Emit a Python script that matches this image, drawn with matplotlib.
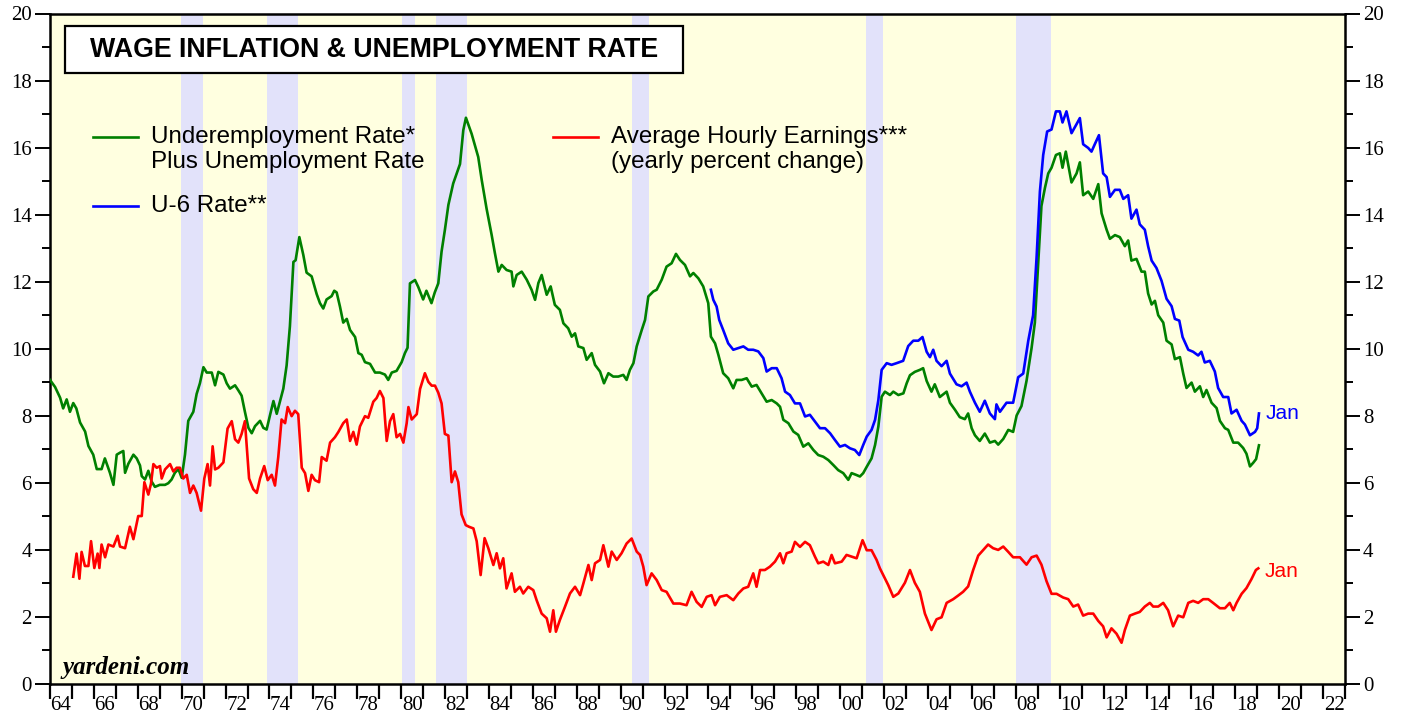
import matplotlib.pyplot as plt
from matplotlib.patches import Rectangle
from matplotlib.lines import Line2D
from matplotlib.ticker import FixedLocator, FixedFormatter, MultipleLocator

# underemployment + unemployment rate (green)
green_years = [1964.0, 1964.23, 1964.46, 1964.6, 1964.76, 1964.91, 1965.06, 1965.2, 1965.37, 1965.6,
               1965.75, 1965.97, 1966.13, 1966.35, 1966.5, 1966.73, 1966.89, 1967.04, 1967.19, 1967.34,
               1967.42, 1967.57, 1967.8, 1967.95, 1968.1, 1968.18, 1968.33, 1968.48, 1968.63, 1968.78,
               1969.0, 1969.24, 1969.39, 1969.54, 1969.69, 1969.85, 1970.0, 1970.15, 1970.3, 1970.53,
               1970.68, 1970.83, 1970.99, 1971.14, 1971.37, 1971.52, 1971.67, 1971.9, 1972.05, 1972.2,
               1972.43, 1972.58, 1972.73, 1972.88, 1973.04, 1973.19, 1973.34, 1973.57, 1973.72, 1973.87,
               1974.02, 1974.18, 1974.33, 1974.48, 1974.63, 1974.78, 1974.93, 1975.09, 1975.19, 1975.36,
               1975.54, 1975.69, 1975.92, 1976.15, 1976.3, 1976.45, 1976.6, 1976.83, 1976.95, 1977.06,
               1977.21, 1977.36, 1977.52, 1977.67, 1977.9, 1978.05, 1978.2, 1978.35, 1978.58, 1978.81,
               1979.03, 1979.26, 1979.41, 1979.57, 1979.79, 1980.02, 1980.17, 1980.29, 1980.4, 1980.63,
               1980.78, 1981.0, 1981.15, 1981.38, 1981.53, 1981.69, 1981.84, 1981.99, 1982.15, 1982.37,
               1982.68, 1982.83, 1982.95, 1983.21, 1983.51, 1983.67, 1983.89, 1984.12, 1984.27, 1984.43,
               1984.58, 1984.8, 1985.03, 1985.11, 1985.26, 1985.49, 1985.72, 1985.94, 1986.1, 1986.25,
               1986.4, 1986.63, 1986.81, 1987.0, 1987.23, 1987.39, 1987.61, 1987.77, 1987.92, 1988.07,
               1988.3, 1988.45, 1988.68, 1988.83, 1989.06, 1989.24, 1989.44, 1989.66, 1989.89, 1990.12,
               1990.27, 1990.42, 1990.58, 1990.73, 1990.96, 1991.11, 1991.26, 1991.49, 1991.64, 1991.87,
               1992.09, 1992.32, 1992.52, 1992.7, 1992.93, 1993.16, 1993.31, 1993.54, 1993.76, 1993.99,
               1994.11, 1994.3, 1994.45, 1994.67, 1994.9, 1995.13, 1995.28, 1995.51, 1995.74, 1995.97,
               1996.19, 1996.42, 1996.65, 1996.88, 1997.11, 1997.26, 1997.41, 1997.64, 1997.87, 1998.09,
               1998.32, 1998.55, 1998.78, 1999.0, 1999.23, 1999.46, 1999.69, 1999.91, 2000.14, 2000.37,
               2000.52, 2000.72, 2000.9, 2001.05, 2001.21, 2001.43, 2001.59, 2001.74, 2001.89, 2002.04,
               2002.27, 2002.42, 2002.65, 2002.88, 2003.03, 2003.18, 2003.4, 2003.63, 2003.78, 2003.94,
               2004.16, 2004.31, 2004.54, 2004.85, 2005.0, 2005.23, 2005.45, 2005.68, 2005.83, 2005.99,
               2006.14, 2006.36, 2006.59, 2006.82, 2007.05, 2007.2, 2007.43, 2007.66, 2007.88, 2008.04,
               2008.26, 2008.49, 2008.72, 2008.87, 2009.02, 2009.17, 2009.33, 2009.48, 2009.63, 2009.83,
               2010.01, 2010.13, 2010.28, 2010.54, 2010.77, 2010.92, 2011.07, 2011.3, 2011.53, 2011.76,
               2011.91, 2012.14, 2012.29, 2012.52, 2012.74, 2012.97, 2013.12, 2013.27, 2013.5, 2013.73,
               2013.88, 2014.03, 2014.19, 2014.34, 2014.49, 2014.72, 2014.87, 2015.1, 2015.25, 2015.48,
               2015.63, 2015.78, 2016.01, 2016.16, 2016.39, 2016.54, 2016.69, 2016.92, 2017.15, 2017.3,
               2017.53, 2017.68, 2017.91, 2018.13, 2018.36, 2018.51, 2018.67, 2018.82, 2018.95, 2019.08]
green_vals = [9.07, 8.86, 8.54, 8.22, 8.49, 8.12, 8.38, 8.22, 7.8, 7.53,
              7.1, 6.84, 6.41, 6.41, 6.73, 6.3, 5.94, 6.84, 6.9, 6.95,
              6.3, 6.57, 6.84, 6.73, 6.52, 6.2, 6.1, 6.36, 6.04, 5.88,
              5.94, 5.94, 5.99, 6.1, 6.3, 6.41, 6.15, 6.84, 7.85, 8.12,
              8.65, 8.97, 9.45, 9.29, 9.29, 8.91, 9.31, 9.23, 8.97, 8.81,
              8.91, 8.76, 8.6, 8.12, 7.64, 7.48, 7.69, 7.85, 7.64, 7.59,
              8.01, 8.44, 8.06, 8.44, 8.81, 9.5, 10.67, 12.59, 12.64, 13.33,
              12.8, 12.27, 12.16, 11.63, 11.36, 11.2, 11.47, 11.57, 11.73, 11.68,
              11.26, 10.78, 10.89, 10.56, 10.35, 9.87, 9.82, 9.6, 9.55, 9.29,
              9.29, 9.23, 9.07, 9.29, 9.34, 9.6, 9.87, 10.03, 11.95, 12.05,
              11.84, 11.47, 11.73, 11.36, 11.68, 11.95, 12.9, 13.54, 14.29, 14.93,
              15.51, 16.52, 16.89, 16.41, 15.72, 15.03, 14.18, 13.4, 12.85, 12.3,
              12.5, 12.35, 12.3, 11.86, 12.2, 12.3, 12.06, 11.76, 11.46, 11.96,
              12.2, 11.61, 11.86, 11.31, 11.16, 10.76, 10.61, 10.36, 10.46, 10.07,
              10.02, 9.67, 9.87, 9.52, 9.32, 8.97, 9.27, 9.17, 9.17, 9.22,
              9.07, 9.37, 9.57, 10.07, 10.56, 10.86, 11.56, 11.71, 11.76, 12.06,
              12.45, 12.55, 12.83, 12.65, 12.5, 12.16, 12.26, 12.1, 11.86, 11.36,
              10.36, 10.16, 9.82, 9.27, 9.12, 8.82, 9.07, 9.07, 9.12, 8.87,
              8.92, 8.67, 8.42, 8.47, 8.37, 8.27, 7.88, 7.78, 7.53, 7.43,
              7.08, 7.18, 6.98, 6.83, 6.78, 6.68, 6.53, 6.38, 6.29, 6.09,
              6.29, 6.24, 6.19, 6.29, 6.48, 6.73, 7.13, 7.68, 8.57, 8.72,
              8.62, 8.72, 8.62, 8.67, 8.97, 9.21, 9.31, 9.37, 9.42, 9.04,
              8.72, 8.94, 8.56, 8.72, 8.39, 8.18, 7.96, 7.9, 8.07, 7.63,
              7.42, 7.25, 7.47, 7.2, 7.25, 7.14, 7.31, 7.58, 7.52, 8.01,
              8.29, 9.04, 10.02, 10.78, 12.52, 14.26, 14.8, 15.23, 15.4, 15.78,
              15.83, 15.4, 15.88, 14.96, 15.23, 15.56, 14.58, 14.69, 14.47, 14.91,
              14.04, 13.55, 13.28, 13.39, 13.33, 13.06, 13.23, 12.63, 12.68, 12.3,
              12.3, 11.65, 11.32, 11.43, 11.0, 10.78, 10.24, 10.13, 9.69, 9.75,
              9.26, 8.83, 8.99, 8.72, 8.88, 8.56, 8.77, 8.39, 8.23, 7.85,
              7.63, 7.58, 7.2, 7.2, 7.04, 6.87, 6.49, 6.6, 6.71, 7.12]

# U-6 rate (blue)
blue_years = [1994.11, 1994.22, 1994.37, 1994.49, 1994.67, 1994.9, 1995.13, 1995.36, 1995.59, 1995.81,
              1996.04, 1996.27, 1996.5, 1996.65, 1996.88, 1997.11, 1997.33, 1997.49, 1997.71, 1997.94,
              1998.17, 1998.4, 1998.62, 1998.85, 1999.08, 1999.31, 1999.54, 1999.76, 1999.99, 2000.22,
              2000.45, 2000.67, 2000.87, 2001.05, 2001.21, 2001.43, 2001.59, 2001.74, 2001.89, 2002.12,
              2002.34, 2002.57, 2002.87, 2003.1, 2003.33, 2003.56, 2003.75, 2003.94, 2004.09, 2004.24,
              2004.39, 2004.62, 2004.85, 2005.0, 2005.3, 2005.53, 2005.76, 2005.91, 2006.14, 2006.36,
              2006.59, 2006.82, 2007.05, 2007.12, 2007.28, 2007.58, 2007.88, 2008.11, 2008.34, 2008.57,
              2008.79, 2008.95, 2009.1, 2009.25, 2009.43, 2009.63, 2009.83, 2010.01, 2010.13, 2010.31,
              2010.54, 2010.77, 2010.92, 2011.07, 2011.3, 2011.45, 2011.6, 2011.79, 2011.98, 2012.14,
              2012.29, 2012.52, 2012.74, 2012.9, 2013.12, 2013.27, 2013.5, 2013.65, 2013.88, 2014.03,
              2014.19, 2014.41, 2014.64, 2014.87, 2015.1, 2015.25, 2015.45, 2015.6, 2015.86, 2016.08,
              2016.31, 2016.46, 2016.61, 2016.84, 2017.07, 2017.22, 2017.45, 2017.68, 2017.83, 2018.06,
              2018.29, 2018.44, 2018.67, 2018.9, 2019.0, 2019.08]
blue_vals = [11.76, 11.46, 11.26, 10.86, 10.56, 10.16, 9.97, 10.02, 10.07, 9.97,
             9.97, 9.92, 9.72, 9.32, 9.42, 9.42, 9.12, 8.72, 8.62, 8.37,
             8.37, 7.98, 8.03, 7.83, 7.63, 7.63, 7.48, 7.28, 7.08, 7.13,
             7.03, 6.98, 6.83, 7.13, 7.38, 7.58, 7.88, 8.47, 9.37, 9.57,
             9.52, 9.57, 9.64, 10.08, 10.24, 10.24, 10.35, 9.91, 9.75, 9.97,
             9.64, 9.48, 9.64, 9.26, 8.94, 8.88, 8.99, 8.72, 8.39, 8.12,
             8.45, 8.07, 7.9, 8.34, 8.12, 8.39, 8.39, 9.15, 9.26, 10.24,
             11.0, 12.74, 14.69, 15.78, 16.48, 16.54, 17.08, 17.08, 16.75, 17.08,
             16.43, 16.7, 16.88, 16.1, 15.99, 15.88, 16.1, 16.37, 15.23, 15.12,
             14.53, 14.74, 14.74, 14.47, 14.58, 13.88, 14.15, 13.71, 13.55, 13.06,
             12.63, 12.41, 12.03, 11.49, 11.27, 10.89, 10.84, 10.35, 9.97, 9.91,
             9.8, 9.91, 9.59, 9.64, 9.32, 8.83, 8.56, 8.56, 8.07, 8.18,
             7.85, 7.74, 7.42, 7.52, 7.63, 8.07]

# average hourly earnings, yearly % change (red)
red_years = [1965.06, 1965.21, 1965.34, 1965.44, 1965.59, 1965.75, 1965.87, 1966.02, 1966.17, 1966.25,
             1966.35, 1966.51, 1966.66, 1966.89, 1967.08, 1967.19, 1967.42, 1967.64, 1967.8, 1968.02,
             1968.18, 1968.3, 1968.48, 1968.6, 1968.71, 1968.86, 1969.01, 1969.09, 1969.24, 1969.47,
             1969.62, 1969.77, 1969.92, 1970.07, 1970.23, 1970.38, 1970.53, 1970.68, 1970.88, 1971.03,
             1971.18, 1971.29, 1971.41, 1971.52, 1971.67, 1971.9, 1972.09, 1972.28, 1972.43, 1972.58,
             1972.73, 1972.88, 1973.07, 1973.26, 1973.42, 1973.57, 1973.76, 1973.92, 1974.1, 1974.25,
             1974.4, 1974.55, 1974.71, 1974.83, 1975.01, 1975.16, 1975.31, 1975.47, 1975.62, 1975.77,
             1975.92, 1976.07, 1976.26, 1976.38, 1976.6, 1976.76, 1976.98, 1977.14, 1977.36, 1977.52,
             1977.67, 1977.82, 1977.97, 1978.12, 1978.35, 1978.5, 1978.73, 1978.88, 1979.03, 1979.19,
             1979.34, 1979.49, 1979.64, 1979.79, 1979.95, 1980.1, 1980.25, 1980.33, 1980.48, 1980.71,
             1980.86, 1981.08, 1981.24, 1981.39, 1981.54, 1981.69, 1981.84, 1981.99, 1982.15, 1982.3,
             1982.45, 1982.6, 1982.75, 1982.94, 1983.09, 1983.29, 1983.44, 1983.62, 1983.8, 1983.97,
             1984.2, 1984.35, 1984.5, 1984.65, 1984.8, 1985.03, 1985.18, 1985.41, 1985.56, 1985.79,
             1986.02, 1986.17, 1986.4, 1986.63, 1986.78, 1986.93, 1987.05, 1987.23, 1987.46, 1987.69,
             1987.92, 1988.15, 1988.3, 1988.53, 1988.68, 1988.83, 1989.06, 1989.21, 1989.44, 1989.59,
             1989.82, 1990.04, 1990.27, 1990.5, 1990.73, 1990.88, 1991.03, 1991.18, 1991.41, 1991.64,
             1991.87, 1992.09, 1992.4, 1992.7, 1993.0, 1993.23, 1993.46, 1993.69, 1993.92, 1994.14,
             1994.3, 1994.52, 1994.83, 1995.13, 1995.36, 1995.59, 1995.81, 1996.04, 1996.19, 1996.35,
             1996.57, 1996.8, 1997.03, 1997.26, 1997.41, 1997.56, 1997.79, 1997.94, 1998.17, 1998.4,
             1998.62, 1998.85, 1999.0, 1999.23, 1999.46, 1999.61, 1999.76, 2000.07, 2000.29, 2000.52,
             2000.75, 2001.02, 2001.21, 2001.43, 2001.66, 2001.81, 2001.96, 2002.19, 2002.42, 2002.65,
             2002.95, 2003.18, 2003.4, 2003.63, 2003.86, 2004.16, 2004.39, 2004.62, 2004.85, 2005.15,
             2005.38, 2005.6, 2005.83, 2006.06, 2006.29, 2006.52, 2006.74, 2006.97, 2007.2, 2007.43,
             2007.66, 2007.88, 2008.19, 2008.49, 2008.72, 2008.95, 2009.17, 2009.4, 2009.63, 2009.86,
             2010.16, 2010.39, 2010.62, 2010.84, 2011.07, 2011.3, 2011.53, 2011.76, 2011.98, 2012.14,
             2012.36, 2012.59, 2012.82, 2012.97, 2013.2, 2013.43, 2013.65, 2013.88, 2014.11, 2014.26,
             2014.49, 2014.72, 2014.94, 2015.17, 2015.4, 2015.63, 2015.86, 2016.08, 2016.31, 2016.54,
             2016.77, 2016.99, 2017.3, 2017.53, 2017.75, 2017.91, 2018.06, 2018.29, 2018.51, 2018.74,
             2018.94, 2019.05]
red_vals = [3.2, 3.89, 3.14, 3.94, 3.52, 3.52, 4.26, 3.46, 3.89, 3.46,
            4.16, 3.78, 4.16, 4.1, 4.42, 4.1, 4.05, 4.69, 4.32, 5.01,
            5.01, 6.02, 5.65, 5.97, 6.56, 6.45, 6.5, 6.13, 6.4, 6.56,
            6.34, 6.45, 6.45, 6.13, 6.24, 5.7, 5.92, 5.7, 5.17, 6.13,
            6.56, 5.92, 7.09, 6.4, 6.45, 6.61, 7.62, 7.84, 7.3, 7.2,
            7.46, 7.84, 6.13, 5.81, 5.7, 6.13, 6.5, 6.08, 6.24, 5.92,
            6.77, 7.89, 7.78, 8.26, 7.99, 8.15, 8.05, 6.45, 6.29, 5.76,
            6.24, 6.08, 6.02, 6.77, 6.66, 7.2, 7.36, 7.52, 7.78, 7.89,
            7.25, 7.52, 7.14, 7.68, 7.99, 7.94, 8.42, 8.53, 8.74, 8.53,
            7.25, 7.84, 8.05, 7.36, 7.46, 7.2, 7.78, 8.26, 7.89, 8.05,
            8.8, 9.27, 9.01, 8.9, 8.9, 8.69, 8.37, 7.46, 7.41, 6.02,
            6.34, 6.02, 5.06, 4.74, 4.69, 4.64, 4.26, 3.25, 4.35, 4.05,
            3.55, 3.9, 3.45, 3.75, 2.85, 3.3, 2.75, 2.9, 2.7, 2.9,
            2.8, 2.5, 2.1, 1.96, 1.56, 2.2, 1.56, 1.91, 2.3, 2.7,
            2.9, 2.65, 3.0, 3.55, 3.1, 3.6, 3.7, 4.14, 3.5, 3.95,
            3.7, 3.9, 4.19, 4.34, 3.95, 3.85, 3.5, 2.95, 3.3, 3.1,
            2.8, 2.75, 2.4, 2.4, 2.35, 2.75, 2.45, 2.3, 2.6, 2.65,
            2.35, 2.6, 2.65, 2.5, 2.7, 2.85, 2.9, 3.3, 2.9, 3.4,
            3.4, 3.5, 3.65, 3.9, 3.6, 3.9, 3.95, 4.24, 4.09, 4.24,
            4.14, 3.8, 3.6, 3.65, 3.55, 3.85, 3.6, 3.65, 3.85, 3.8,
            3.75, 4.29, 3.99, 3.99, 3.7, 3.45, 3.25, 2.95, 2.6, 2.7,
            3.02, 3.4, 3.02, 2.75, 2.1, 1.61, 1.93, 1.99, 2.42, 2.53,
            2.64, 2.75, 2.91, 3.4, 3.83, 4.0, 4.16, 4.05, 4.0, 4.1,
            3.94, 3.78, 3.78, 3.56, 3.78, 3.83, 3.56, 3.07, 2.69, 2.69,
            2.58, 2.53, 2.31, 2.37, 2.04, 2.1, 2.1, 1.88, 1.72, 1.39,
            1.66, 1.5, 1.23, 1.61, 2.04, 2.1, 2.15, 2.31, 2.42, 2.31,
            2.31, 2.42, 2.2, 1.72, 2.04, 1.99, 2.42, 2.48, 2.42, 2.53,
            2.53, 2.42, 2.26, 2.26, 2.42, 2.2, 2.42, 2.69, 2.86, 3.13,
            3.4, 3.45]

# recession shading
rec_start = [1969.95, 1973.88, 1980.05, 1981.58, 1990.52, 2001.18, 2008.0]
rec_end = [1970.95, 1975.28, 1980.62, 1983.0, 1991.3, 2001.95, 2009.6]

x_labels = ['64', '66', '68', '70', '72', '74', '76', '78', '80', '82', '84', '86', '88', '90',
            '92', '94', '96', '98', '00', '02', '04', '06', '08', '10', '12', '14', '16', '18',
            '20', '22']

GREEN = '#008000'
RED = '#ff0000'
BLUE = '#0000ff'
sans = ['Liberation Sans', 'DejaVu Sans']
serif = ['Liberation Serif', 'DejaVu Serif']

fig = plt.figure(figsize=(14.05, 7.17), dpi=100)
ax = fig.add_axes([50 / 1405, 33 / 717, 1295 / 1405, 670.5 / 717])
ax.set_facecolor('#ffffe0')

for s, e in zip(rec_start, rec_end):
    ax.axvspan(s, e, color='#e2e2fa', lw=0, zorder=0.5)

ax.plot(green_years, green_vals, color=GREEN, lw=1.9, zorder=3)
ax.plot(red_years, red_vals, color=RED, lw=1.9, zorder=3)
ax.plot(blue_years, blue_vals, color=BLUE, lw=1.9, zorder=4)

ax.set_xlim(1964, 2023)
ax.set_ylim(0, 20)

# x axis: tick at every year boundary, labels centred on even years
ax.xaxis.set_major_locator(MultipleLocator(1))
ax.xaxis.set_minor_locator(FixedLocator([1964.5 + 2 * i for i in range(len(x_labels))]))
ax.xaxis.set_minor_formatter(FixedFormatter(x_labels))
ax.tick_params(axis='x', which='major', direction='out', length=11, width=1.6, labelbottom=False)
ax.tick_params(axis='x', which='minor', length=0, pad=9, labelsize=15)

ax.yaxis.set_major_locator(MultipleLocator(2))
ax.yaxis.set_minor_locator(MultipleLocator(1))
ax.tick_params(axis='y', which='major', direction='out', length=11, width=1.4,
               left=True, right=True, labelleft=True, labelright=True, pad=2, labelsize=15)
ax.tick_params(axis='y', which='minor', direction='out', length=6, width=1.4, left=True, right=True)
for lab in ax.get_xticklabels(minor=True):
    lab.set_family(serif)
for lab in ax.yaxis.get_ticklabels(which='both'):
    lab.set_family(serif)
for sp in ax.spines.values():
    sp.set_linewidth(1.8)

# title box
ax.add_patch(Rectangle((0.0116, 0.911), 0.4772, 0.070, transform=ax.transAxes,
                       facecolor='white', edgecolor='black', lw=1.6, zorder=5))
ax.text(0.25, 0.946, 'WAGE INFLATION & UNEMPLOYMENT RATE', transform=ax.transAxes,
        ha='center', va='center', fontsize=19.3, fontweight='bold', family=sans, zorder=6)

# legend drawn by hand to match the layout
def legend_item(x0, y, color, lines):
    ax.add_line(Line2D([x0, x0 + 0.0348], [y, y], color=color, lw=1.9, transform=ax.transAxes))
    for i, txt in enumerate(lines):
        ax.text(x0 + 0.045, y - i * 0.0375, txt, transform=ax.transAxes, ha='left', va='center',
                fontsize=17.4, family=sans)

legend_item(0.0332, 0.816, GREEN, ['Underemployment Rate*', 'Plus Unemployment Rate'])
legend_item(0.0332, 0.713, BLUE, ['U-6 Rate**'])
legend_item(0.3884, 0.816, RED, ['Average Hourly Earnings***', '(yearly percent change)'])

ax.text(blue_years[-1] + 0.3, blue_vals[-1], 'Jan', color=BLUE, ha='left', va='center',
        fontsize=15, family=sans)
ax.text(red_years[-1] + 0.3, red_vals[-1] - 0.1, 'Jan', color=RED, ha='left', va='center',
        fontsize=15, family=sans)

ax.text(0.0093, 0.024, 'yardeni.com', transform=ax.transAxes, ha='left', va='center',
        fontsize=18, fontweight='bold', fontstyle='italic', family=serif, zorder=6)

fig.savefig('out.png', dpi=100)
